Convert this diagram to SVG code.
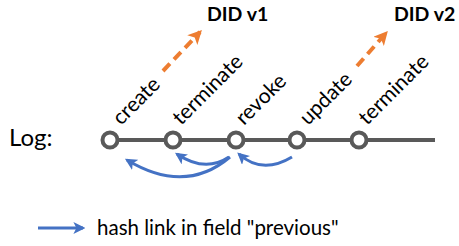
<svg xmlns="http://www.w3.org/2000/svg" width="459" height="246" viewBox="0 0 459 246">
  <style>
    .lbl { font-family: Lato, "Open Sans", "Liberation Sans", sans-serif; font-size: 21px; fill: #000; }
    .did { font-family: Lato, "Open Sans", "Liberation Sans", sans-serif; font-size: 19.5px; font-weight: bold; fill: #000; }
    .node { fill: #fff; stroke: #595959; stroke-width: 4; }
    .hash { fill: none; stroke: #4472C4; stroke-width: 3; marker-end: url(#blueHead); }
    .ver { fill: none; stroke: #ED7D31; stroke-width: 4; stroke-dasharray: 10 6; marker-end: url(#orangeHead); }
  </style>
  <defs>
    <marker id="blueHead" viewBox="0 0 10 10" refX="8" refY="5" markerWidth="4" markerHeight="4" orient="auto" markerUnits="strokeWidth">
      <path d="M0,0 L10,5 L0,10 L2.5,5 z" fill="#4472C4"/>
    </marker>
    <marker id="orangeHead" viewBox="0 0 10 10" refX="8" refY="5" markerWidth="3.5" markerHeight="3.5" orient="auto" markerUnits="strokeWidth">
      <path d="M0,0 L10,5 L0,10 L2.5,5 z" fill="#ED7D31"/>
    </marker>
  </defs>

  <text class="lbl" x="9" y="146" style="font-size:24px">Log:</text>

  <g id="connectors">
    <line x1="110" y1="140" x2="435" y2="140" stroke="#595959" stroke-width="4"/>
    <path class="hash" d="M230,157 Q185,195 127,160"/>
    <path class="hash" d="M229,157 Q205,173 177,154"/>
    <path class="hash" d="M292,157 Q262,175 239,154"/>
    <path class="ver" d="M163,71 L200,32"/>
    <path class="ver" d="M357,66 L386,33"/>
  </g>

  <g id="n-create"><circle class="node" cx="110" cy="140" r="7.5"/><text class="lbl" transform="translate(121,126) rotate(-45)">create</text></g>
  <g id="n-terminate1"><circle class="node" cx="173" cy="140" r="7.5"/><text class="lbl" transform="translate(181,126) rotate(-45)">terminate</text></g>
  <g id="n-revoke"><circle class="node" cx="236" cy="140" r="7.5"/><text class="lbl" transform="translate(244,126) rotate(-45)">revoke</text></g>
  <g id="n-update"><circle class="node" cx="297" cy="140" r="7.5"/><text class="lbl" transform="translate(308,126) rotate(-45)">update</text></g>
  <g id="n-terminate2"><circle class="node" cx="359" cy="140" r="7.5"/><text class="lbl" transform="translate(367,126) rotate(-45)">terminate</text></g>

  <g id="did-v1"><text class="did" x="207" y="21">DID v1</text></g>
  <g id="did-v2"><text class="did" x="394" y="21">DID v2</text></g>

  <g id="legend">
    <line x1="38" y1="228" x2="83" y2="228" stroke="#4472C4" stroke-width="3" marker-end="url(#blueHead)"/>
    <text class="lbl" x="97" y="235" style="font-size:20.5px">hash link in field "previous"</text>
  </g>
</svg>
